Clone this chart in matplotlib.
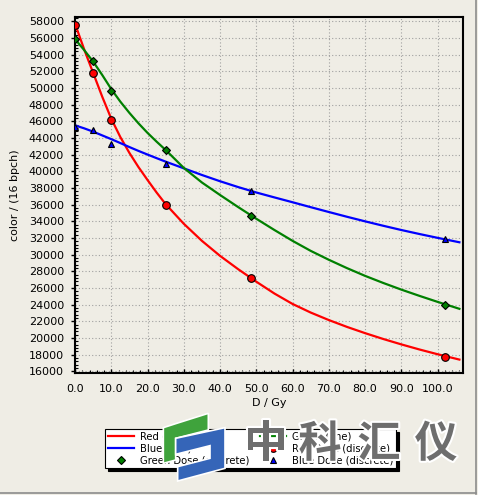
import matplotlib
matplotlib.use('Agg')
import matplotlib.pyplot as plt
import matplotlib.patheffects as pe
from matplotlib.ticker import MultipleLocator, FormatStrFormatter
from matplotlib.patches import Polygon
from matplotlib.lines import Line2D

# fitted calibration curves
dose_fit = [0, 2.5, 5, 7.5, 10, 12.5, 15, 17.5, 20, 22.5, 25, 30, 35, 40, 45,
            50, 55, 60, 65, 70, 75, 80, 85, 90, 95, 100, 106]
red_fit = [57700, 54650, 51800, 48950, 46300, 44100, 42200, 40500, 38950, 37450,
           36050, 33700, 31650, 29850, 28250, 26750, 25330, 24080, 23050, 22150,
           21330, 20580, 19880, 19230, 18620, 18050, 17410]
green_fit = [55850, 54550, 53150, 51550, 49850, 48350, 47000, 45750, 44600, 43550,
             42550, 40400, 38650, 37150, 35700, 34300, 32950, 31650, 30450, 29380,
             28380, 27450, 26600, 25800, 25050, 24330, 23500]
blue_fit = [45500, 45150, 44750, 44300, 43850, 43380, 42900, 42440, 42000, 41570,
            41150, 40350, 39550, 38800, 38100, 37450, 36860, 36280, 35690, 35110,
            34540, 33990, 33460, 32950, 32470, 32010, 31480]

# measured points
dose_pts = [0, 5, 10, 25, 48.6, 102]
red_pts = [57600, 51800, 46100, 36000, 27150, 17750]
green_pts = [55850, 53250, 49650, 42550, 34600, 23950]
blue_pts = [45350, 44950, 43300, 40850, 37650, 31850]

W, H = 478, 495
bg = '#efede5'


def fx(px):
    return px / W


def fy(py):
    return 1 - py / H


fig = plt.figure(figsize=(W / 100, H / 100), dpi=100, facecolor=bg)
ax = fig.add_axes([fx(75), fy(373), (463 - 75) / W, (373 - 17) / H])
ax.set_facecolor(bg)

l_red, = ax.plot(dose_fit, red_fit, color='#ff0000', lw=1.6, zorder=3)
l_blue, = ax.plot(dose_fit, blue_fit, color='#0000ff', lw=1.6, zorder=3)
l_green, = ax.plot(dose_fit, green_fit, color='#008000', lw=1.6, zorder=3)

p_red, = ax.plot(dose_pts, red_pts, ls='none', marker='o', ms=5.5, mfc='#ff0000',
                 mec='black', mew=0.8, zorder=4)
p_green, = ax.plot(dose_pts, green_pts, ls='none', marker='D', ms=4, mfc='#008000',
                   mec='black', mew=0.8, zorder=4)
p_blue, = ax.plot(dose_pts, blue_pts, ls='none', marker='^', ms=5, mfc='#0000ff',
                  mec='black', mew=0.8, zorder=4)

ax.set_xlim(0, 107)
ax.set_ylim(15800, 58500)
ax.xaxis.set_major_locator(MultipleLocator(10))
ax.xaxis.set_minor_locator(MultipleLocator(2))
ax.xaxis.set_major_formatter(FormatStrFormatter('%.1f'))
ax.yaxis.set_major_locator(MultipleLocator(2000))
ax.yaxis.set_minor_locator(MultipleLocator(400))

ax.grid(True, which='major', color='#a0a0a0', ls=(0, (1, 2)), lw=0.8)
ax.tick_params(axis='y', which='major', direction='out', length=3, width=1,
               pad=5, labelsize=8)
ax.tick_params(axis='y', which='minor', direction='in', length=2, width=0.8)
ax.tick_params(axis='x', which='major', direction='in', length=3, width=1,
               pad=8, labelsize=8)
ax.tick_params(axis='x', which='minor', direction='in', length=2, width=0.8)
for s in ax.spines.values():
    s.set_linewidth(1.5)
    s.set_color('black')

ax.set_xlabel('D / Gy', fontsize=8)
ax.xaxis.set_label_coords(0.5, -0.07)
ax.set_ylabel('color / (16 bpch)', fontsize=8)
ax.yaxis.set_label_coords(-0.142, 0.5)

handles = [l_red, l_blue, p_green, l_green, p_red, p_blue]
labels = ['Red (line)', 'Blue (line)', 'Green Dose (discrete)',
          'Green (line)', 'Red Dose (discrete)', 'Blue Dose (discrete)']
leg = ax.legend(handles, labels, ncol=2, loc='upper left',
                bbox_to_anchor=(fx(105), fy(429)), bbox_transform=fig.transFigure,
                fontsize=7.2, frameon=True, fancybox=False, edgecolor='black',
                facecolor='white', framealpha=1,
                shadow={'color': 'black', 'alpha': 1},
                borderpad=0.25, labelspacing=0.2, handlelength=2.6,
                handletextpad=0.6, columnspacing=1.1, borderaxespad=0)
leg.get_frame().set_linewidth(0.8)


# watermark logo + text
def zpt(zx, zy):
    return (fx(155 + zx / 3), fy(405 + zy / 3))


green_logo = [zpt(*p) for p in [(25, 68), (62, 56), (160, 25), (160, 75),
                                (62, 100), (62, 165), (25, 175)]]
blue_logo = [zpt(*p) for p in [(62, 100), (210, 68), (210, 190), (68, 228),
                               (68, 185), (165, 160), (165, 122), (62, 148)]]
fig.add_artist(Polygon(green_logo, closed=True, transform=fig.transFigure,
                       facecolor='#3fa33c', edgecolor='white', lw=1.2, zorder=5))
fig.add_artist(Polygon(blue_logo, closed=True, transform=fig.transFigure,
                       facecolor='#3565b8', edgecolor='white', lw=1.2, zorder=5))

for ch, cx in zip('中科汇仪', [266, 320, 379, 436]):
    fig.text(fx(cx), fy(444), ch, fontsize=31, family='Noto Sans CJK SC',
             weight='bold', color='#6e6e6e', ha='center', va='center', zorder=6,
             path_effects=[pe.withStroke(linewidth=3, foreground='white')])

# window frame
fig.add_artist(Line2D([fx(476), fx(476)], [fy(0), fy(494)], color='#8c8c8c',
                      lw=1.2, transform=fig.transFigure))
fig.add_artist(Line2D([fx(0), fx(476)], [fy(493), fy(493)], color='#8c8c8c',
                      lw=1.2, transform=fig.transFigure))

fig.savefig('out.png', dpi=100, facecolor=bg)
